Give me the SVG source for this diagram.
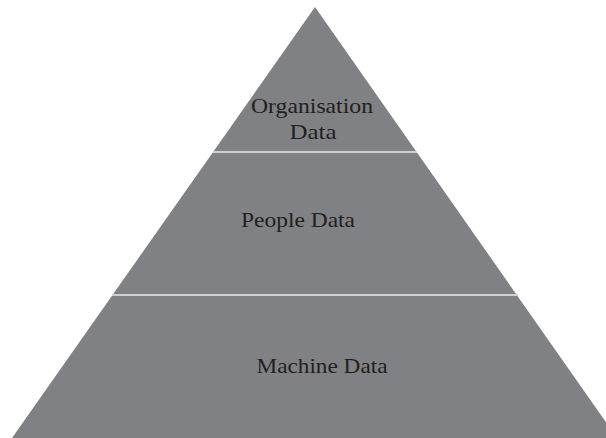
<svg xmlns="http://www.w3.org/2000/svg" width="606" height="438" viewBox="0 0 606 438">
<style>
.lbl{font-family:"Liberation Serif","Times New Roman",serif;font-size:21px;fill:#231f20;text-anchor:middle}
.div{stroke:#cfd0d2;stroke-width:2}
</style>
<rect width="606" height="438" fill="#ffffff"/>
<g id="pyramid">
<polygon points="315,7 12,438 617,438" fill="#808184"/>
</g>
<g id="connectors">
<line class="div" x1="213" y1="152" x2="417" y2="152"/>
<line class="div" x1="112" y1="295" x2="518" y2="295"/>
</g>
<g id="organisation">
<text class="lbl" x="312" y="113" textLength="122" lengthAdjust="spacingAndGlyphs">Organisation</text>
<text class="lbl" x="313" y="139" textLength="47" lengthAdjust="spacingAndGlyphs">Data</text>
</g>
<g id="people">
<text class="lbl" x="298" y="227" textLength="114" lengthAdjust="spacingAndGlyphs">People Data</text>
</g>
<g id="machine">
<text class="lbl" x="322" y="373" textLength="131" lengthAdjust="spacingAndGlyphs">Machine Data</text>
</g>
</svg>
